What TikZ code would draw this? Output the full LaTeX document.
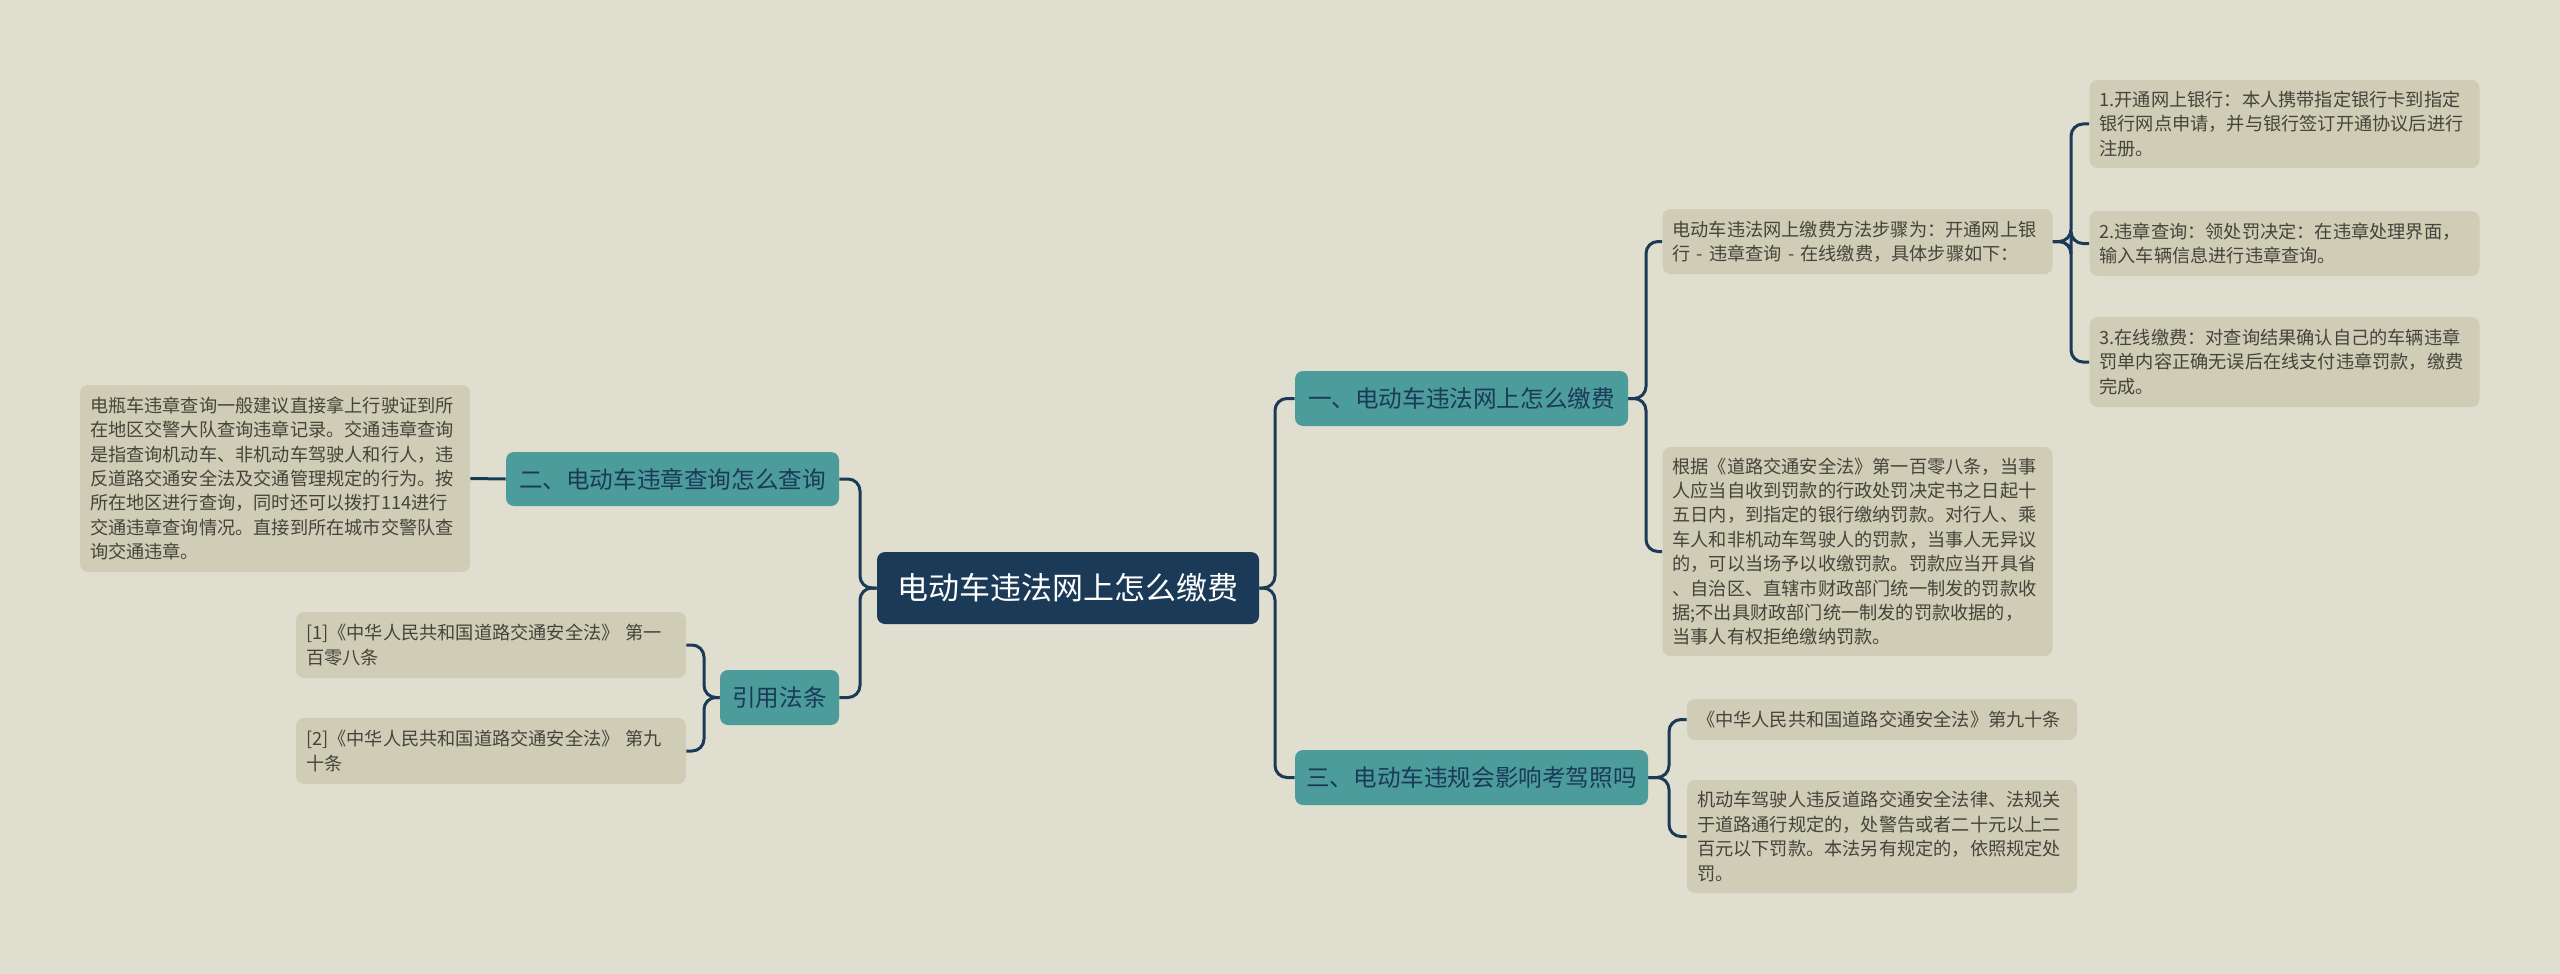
\documentclass[tikz,border=0pt]{standalone}
\usepackage{fontspec}
\setmainfont{Noto Sans CJK SC}
\definecolor{bg}{HTML}{E0DECE}
\definecolor{leaf}{HTML}{CFCDB6}
\definecolor{teal}{HTML}{4C9C9B}
\definecolor{navy}{HTML}{1B3A57}
\definecolor{tx}{HTML}{44443A}
\begin{document}
\begin{tikzpicture}[x=1pt,y=-1pt,
 leafbox/.style={rounded corners=4pt,fill=leaf,text=tx,font=\fontsize{9.1}{12.2}\selectfont,align=left,inner xsep=5pt,inner ysep=0pt,text width=#1},
 leafbox/.default=185pt,
 midbox/.style={rounded corners=4pt,fill=teal,text=navy,font=\fontsize{11.8}{14}\selectfont,inner sep=0pt},
 conn/.style={draw=navy,line width=1.5pt,rounded corners=6pt}]
\fill[bg] (0,0) rectangle (1280,487);
% central
\node[rounded corners=4pt,fill=navy,text=white,font=\fontsize{15.5}{18}\selectfont,minimum width=191pt,minimum height=36pt,inner sep=0pt] (c) at (534,294) {电动车违法网上怎么缴费};
% level 1
\node[midbox,minimum width=166.5pt,minimum height=27.5pt] (r1) at (730.75,199.25) {一、电动车违法网上怎么缴费};
\node[midbox,minimum width=176.5pt,minimum height=27.5pt] (r3) at (735.75,388.75) {三、电动车违规会影响考驾照吗};
\node[midbox,minimum width=166.5pt,minimum height=27pt] (l2) at (336.25,239.5) {二、电动车违章查询怎么查询};
\node[midbox,minimum width=59.5pt,minimum height=27.5pt] (cite) at (389.75,348.75) {引用法条};
% leaves
\node[leafbox,minimum height=32.5pt] (a) at (928.75,120.75) {电动车违法网上缴费方法步骤为：开通网上银\\行 - 违章查询 - 在线缴费，具体步骤如下：};
\node[leafbox,minimum height=44pt] (s1) at (1142.25,62) {1.开通网上银行：本人携带指定银行卡到指定\\银行网点申请，并与银行签订开通协议后进行\\注册。};
\node[leafbox,minimum height=32.5pt] (s2) at (1142.25,121.75) {2.违章查询：领处罚决定：在违章处理界面，\\输入车辆信息进行违章查询。};
\node[leafbox,minimum height=45pt] (s3) at (1142.25,181) {3.在线缴费：对查询结果确认自己的车辆违章\\罚单内容正确无误后在线支付违章罚款，缴费\\完成。};
\node[leafbox,minimum height=104.5pt] (b) at (928.75,275.75) {根据《道路交通安全法》第一百零八条，当事\\人应当自收到罚款的行政处罚决定书之日起十\\五日内，到指定的银行缴纳罚款。对行人、乘\\车人和非机动车驾驶人的罚款，当事人无异议\\的，可以当场予以收缴罚款。罚款应当开具省\\、自治区、直辖市财政部门统一制发的罚款收\\据;不出具财政部门统一制发的罚款收据的，\\当事人有权拒绝缴纳罚款。};
\node[leafbox,minimum height=20.5pt] (cc) at (941,359.75) {《中华人民共和国道路交通安全法》第九十条};
\node[leafbox,minimum height=56.5pt] (d) at (941,418.25) {机动车驾驶人违反道路交通安全法律、法规关\\于道路通行规定的，处警告或者二十元以上二\\百元以下罚款。本法另有规定的，依照规定处\\罚。};
\node[leafbox,minimum height=93.5pt] (e) at (137.5,239.25) {电瓶车违章查询一般建议直接拿上行驶证到所\\在地区交警大队查询违章记录。交通违章查询\\是指查询机动车、非机动车驾驶人和行人，违\\反道路交通安全法及交通管理规定的行为。按\\所在地区进行查询，同时还可以拨打114进行\\交通违章查询情况。直接到所在城市交警队查\\询交通违章。};
\node[leafbox,minimum height=33pt] (f1) at (245.5,322.5) {[1]《中华人民共和国道路交通安全法》 第一\\百零八条};
\node[leafbox,minimum height=33pt] (f2) at (245.5,375.5) {[2]《中华人民共和国道路交通安全法》 第九\\十条};
% junctions
\coordinate (jc) at (637.5,294);
\coordinate (jl) at (430,294);
\coordinate (j1) at (823,199.25);
\coordinate (j3) at (834.5,388.75);
\coordinate (ja) at (1035.5,120.75);
\coordinate (jf) at (352,348.75);
% connectors
\draw[conn] (c.east) -- (jc) |- (r1.west);
\draw[conn] (c.east) -- (jc) |- (r3.west);
\draw[conn] (c.west) -- (jl) |- (l2.east);
\draw[conn] (c.west) -- (jl) |- (cite.east);
\draw[conn] (r1.east) -- (j1) |- (a.west);
\draw[conn] (r1.east) -- (j1) |- (b.west);
\draw[conn] (a.east) -- (ja) |- (s1.west);
\draw[conn] (a.east) -- (ja) |- (s2.west);
\draw[conn] (a.east) -- (ja) |- (s3.west);
\draw[conn] (r3.east) -- (j3) |- (cc.west);
\draw[conn] (r3.east) -- (j3) |- (d.west);
\draw[conn] (l2.west) -- (e.east);
\draw[conn] (cite.west) -- (jf) |- (f1.east);
\draw[conn] (cite.west) -- (jf) |- (f2.east);
\end{tikzpicture}
\end{document}
